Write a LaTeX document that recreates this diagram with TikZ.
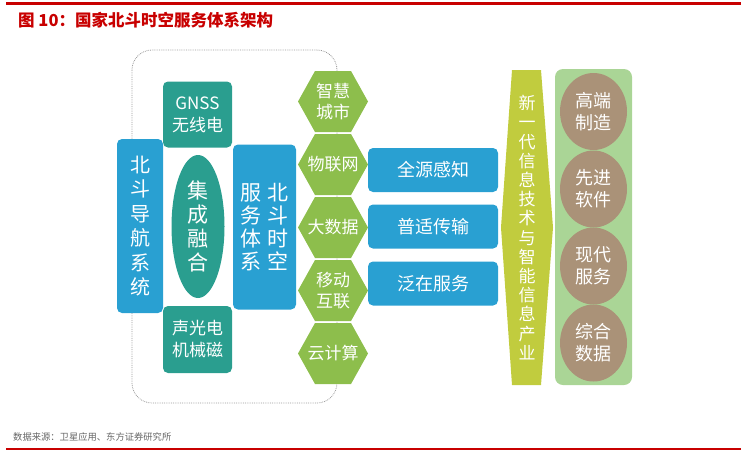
\documentclass[tikz,border=0pt]{standalone}
\usepackage{fontspec}
\setmainfont{Noto Sans CJK SC}
\usetikzlibrary{shapes.geometric}
\definecolor{bdblue}{RGB}{41,160,210}
\definecolor{bdteal}{RGB}{42,158,143}
\definecolor{bdgreen}{RGB}{141,190,76}
\definecolor{bdlime}{RGB}{193,204,62}
\definecolor{bdmint}{RGB}{170,213,150}
\definecolor{bdbrown}{RGB}{170,146,120}
\definecolor{bdred}{RGB}{200,0,0}
\begin{document}
\begin{tikzpicture}[x=1pt, y=-1pt,
    bluebox/.style={rectangle, fill=bdblue, rounded corners=5pt, text=white, inner sep=0pt, align=center},
    tealbox/.style={rectangle, fill=bdteal, rounded corners=5pt, text=white, inner sep=0pt, align=center, minimum width=69pt, minimum height=66pt, font=\fontsize{17}{22}\selectfont},
    hextext/.style={text=white, inner sep=0pt, align=center, font=\fontsize{17}{21}\selectfont},
    roundcell/.style={ellipse, fill=bdbrown, minimum width=67pt, minimum height=77pt, inner sep=0pt, text=white, align=center, font=\fontsize{18}{22}\selectfont}]
    \useasboundingbox (0,0) rectangle (747,456);

    % Frame lines and texts
    \draw[bdred, line width=2.5pt] (6,3.5) -- (741,3.5);
    \draw[bdred, line width=2.5pt] (6,449) -- (741,449);
    \node[anchor=west, inner sep=0pt, text=bdred, font=\fontsize{16.5}{18}\selectfont\bfseries] (title) at (18,20) {图 10：国家北斗时空服务体系架构};
    \node[anchor=west, inner sep=0pt, text=black!60, font=\fontsize{9.3}{12}\selectfont] (source) at (13,437) {数据来源：卫星应用、东方证券研究所};

    % Dotted outline
    \draw[densely dotted, gray!80, line width=0.8pt, rounded corners=20pt] (132,50) rectangle (337,403);

    % Beidou navigation
    \node[bluebox, minimum width=46pt, minimum height=174pt, font=\fontsize{20}{24.5}\selectfont] (navsys) at (140,226) {北\\斗\\导\\航\\系\\统};
    \node[tealbox] (gnss) at (197.5,114.5) {GNSS\\无线电};
    \node[ellipse, fill=bdteal, minimum width=53pt, minimum height=143pt, inner sep=0pt, text=white, align=center, font=\fontsize{21}{24}\selectfont] (fusion) at (198,226.5) {集\\成\\融\\合};
    \node[tealbox, minimum height=67pt] (sensor) at (197.5,339.5) {声光电\\机械磁};
    \node[bluebox, minimum width=63pt, minimum height=165pt, font=\fontsize{21}{23}\selectfont] (service) at (264.5,227) {服\hspace{7pt}北\\务\hspace{7pt}斗\\体\hspace{7pt}时\\系\hspace{7pt}空};

    % Hexagons
    \foreach \y in {101.5,164.5,227.5,290.5,353.5}
        \fill[bdgreen] (298,\y) -- (315,\y-30.5) -- (351,\y-30.5) -- (368,\y) -- (351,\y+30.5) -- (315,\y+30.5) -- cycle;
    \node[hextext] (city) at (333,101.5) {智慧\\城市};
    \node[hextext] (iot) at (333,164.5) {物联网};
    \node[hextext] (bigdata) at (333,227.5) {大数据};
    \node[hextext] (mobile) at (333,290.5) {移动\\互联};
    \node[hextext] (cloud) at (333,353.5) {云计算};

    % Service boxes
    \node[bluebox, minimum width=130pt, minimum height=44pt, font=\fontsize{18}{22}\selectfont] (sense) at (433,170) {全源感知};
    \node[bluebox, minimum width=130pt, minimum height=44pt, font=\fontsize{18}{22}\selectfont] (trans) at (433,226.5) {普适传输};
    \node[bluebox, minimum width=130pt, minimum height=44pt, font=\fontsize{18}{22}\selectfont] (serve) at (433,283.5) {泛在服务};

    % Industry band
    \fill[bdlime] (512,70) -- (541,70) -- (553,227.5) -- (541,385) -- (512,385) -- (501,227.5) -- cycle;
    \node[text=white, align=center, inner sep=0pt, font=\fontsize{17}{19.2}\selectfont] (newgen) at (527,227.5) {新\\一\\代\\信\\息\\技\\术\\与\\智\\能\\信\\息\\产\\业};

    % Industry panel
    \node[rectangle, fill=bdmint, rounded corners=8pt, minimum width=77pt, minimum height=316pt] (panel) at (593.5,227) {};
    \node[roundcell] (mfg) at (593.5,111.5) {高端\\制造};
    \node[roundcell] (soft) at (593.5,189) {先进\\软件};
    \node[roundcell] (modern) at (593.5,266) {现代\\服务};
    \node[roundcell] (data) at (593.5,343) {综合\\数据};
\end{tikzpicture}
\end{document}
